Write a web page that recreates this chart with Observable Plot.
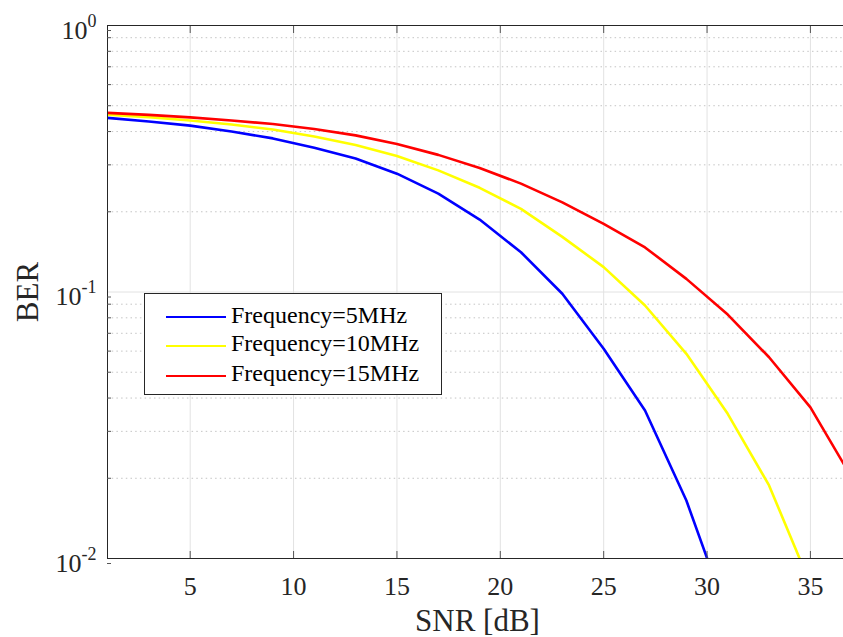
<!DOCTYPE html>
<html><head><meta charset="utf-8">
<script src="https://cdn.jsdelivr.net/npm/d3@7"></script>
<script src="https://cdn.jsdelivr.net/npm/@observablehq/plot@0.6"></script>
<style>
html,body{margin:0;padding:0;background:#fff;overflow:hidden}
#chart{position:relative;width:843px;height:637px}
#legend{position:absolute;left:144px;top:293px;width:296px;height:100px;border:1px solid #262626;background:#fff;font-family:"Liberation Serif",serif;font-size:24px;color:#000}
.sw{position:absolute;left:21px;width:60px;height:0;border-top:2.6px solid}
.lab{position:absolute;left:86px;white-space:nowrap;line-height:29px;height:29px}
</style></head>
<body>
<div id="chart"></div>
<script>
// Data
const snr = [1,3,5,7,9,11,13,15,17,19,21,23,25,27,29,31,33,35,37];
const ber5MHz  = [0.450,0.436,0.421,0.400,0.377,0.348,0.317,0.278,0.234,0.187,0.141,0.0985,0.0612,0.0359,0.0165,0.0061];
const ber10MHz = [0.463,0.453,0.440,0.425,0.407,0.383,0.356,0.324,0.286,0.246,0.205,0.161,0.124,0.089,0.0586,0.0349,0.0188,0.0080];
const ber15MHz = [0.470,0.462,0.452,0.440,0.427,0.409,0.387,0.359,0.327,0.292,0.255,0.217,0.180,0.147,0.112,0.0823,0.0569,0.0369,0.0201];
const seriesNames = ["Frequency=5MHz","Frequency=10MHz","Frequency=15MHz"];
const seriesColors = ["#0000ff","#ffff00","#ff0000"];
const xTicks = [5,10,15,20,25,30,35];
const yMajor = [0.01,0.1,1];
const yMinor = [0.02,0.03,0.04,0.05,0.06,0.07,0.08,0.09,0.2,0.3,0.4,0.5,0.6,0.7,0.8,0.9];

const seriesValues = [ber5MHz, ber10MHz, ber15MHz];
const rows = seriesValues.flatMap((vals, s) => vals.map((v, i) => ({snr: snr[i], ber: v, series: seriesNames[s]})));

const axisColor = "#262626";
const serif = "Liberation Serif, serif";
const plot = Plot.plot({
  width: 843, height: 637,
  marginLeft: 107, marginRight: 0, marginTop: 25, marginBottom: 79,
  style: {fontFamily: serif, fontSize: "26px", color: axisColor, background: "transparent"},
  x: {domain: [1, 36.6]},
  y: {type: "log", domain: [0.01, 1]},
  color: {domain: seriesNames, range: seriesColors},
  marks: [
    Plot.ruleY(yMinor, {stroke: "#c4c4c4", strokeDasharray: "1.5,3.2"}),
    Plot.ruleX(xTicks, {stroke: "#e2e2e2"}),
    Plot.ruleY([0.1], {stroke: "#e2e2e2"}),
    Plot.line(rows, {x: "snr", y: "ber", z: "series", stroke: "series", strokeWidth: 2.6, clip: true}),
    Plot.ruleY([1, 0.01], {stroke: axisColor}),
    Plot.ruleX([1], {stroke: axisColor}),
    Plot.axisX({anchor: "bottom", ticks: xTicks, tickSize: -7, tickPadding: 25.5, label: null, stroke: "#555",
      fontSize: 26, fontFamily: serif, fill: axisColor}),
    Plot.axisX({anchor: "top", ticks: xTicks, tickSize: -7, tickFormat: () => "", label: null, stroke: "#555"}),
    Plot.axisY({anchor: "left", ticks: yMinor, tickSize: -4, tickFormat: () => "", label: null, stroke: "#555"}),
    Plot.axisY({anchor: "left", ticks: yMajor, tickSize: -4, tickPadding: 15, dy: 5, label: null, stroke: "#555",
      fontSize: 26, fontFamily: serif, fill: axisColor,
      tickFormat: d => "10^" + Math.round(Math.log10(d))}),
    Plot.text(["SNR [dB]"], {text: d => d, frameAnchor: "bottom", lineAnchor: "middle", textAnchor: "middle",
      dy: 62.5, dx: 2, fontSize: 31, fontFamily: serif, fill: axisColor}),
    Plot.text(["BER"], {text: d => d, frameAnchor: "left", lineAnchor: "middle", textAnchor: "middle",
      rotate: -90, dx: -79.5, fontSize: 31, fontFamily: serif, fill: axisColor})
  ]
});

// superscript exponents on y tick labels
d3.select(plot).selectAll('g[aria-label="y-axis tick label"] text').each(function() {
  const t = this.textContent;
  if (!t.includes("^")) return;
  const [b, e] = t.split("^");
  const sel = d3.select(this);
  sel.text(null);
  sel.append("tspan").text(b);
  sel.append("tspan").attr("font-size", 18).attr("dy", -12).text(e);
});

const chart = document.getElementById("chart");
chart.appendChild(plot);

// legend overlay
const legend = document.createElement("div");
legend.id = "legend";
const rowCenters = [23.7, 52, 82];
seriesNames.forEach((name, i) => {
  const sw = document.createElement("div");
  sw.className = "sw";
  sw.style.borderTopColor = seriesColors[i];
  sw.style.top = (rowCenters[i] - 1.3) + "px";
  legend.appendChild(sw);
  const lab = document.createElement("div");
  lab.className = "lab";
  lab.style.top = (rowCenters[i] - 17) + "px";
  lab.textContent = name;
  legend.appendChild(lab);
});
chart.appendChild(legend);
</script>
</body></html>
